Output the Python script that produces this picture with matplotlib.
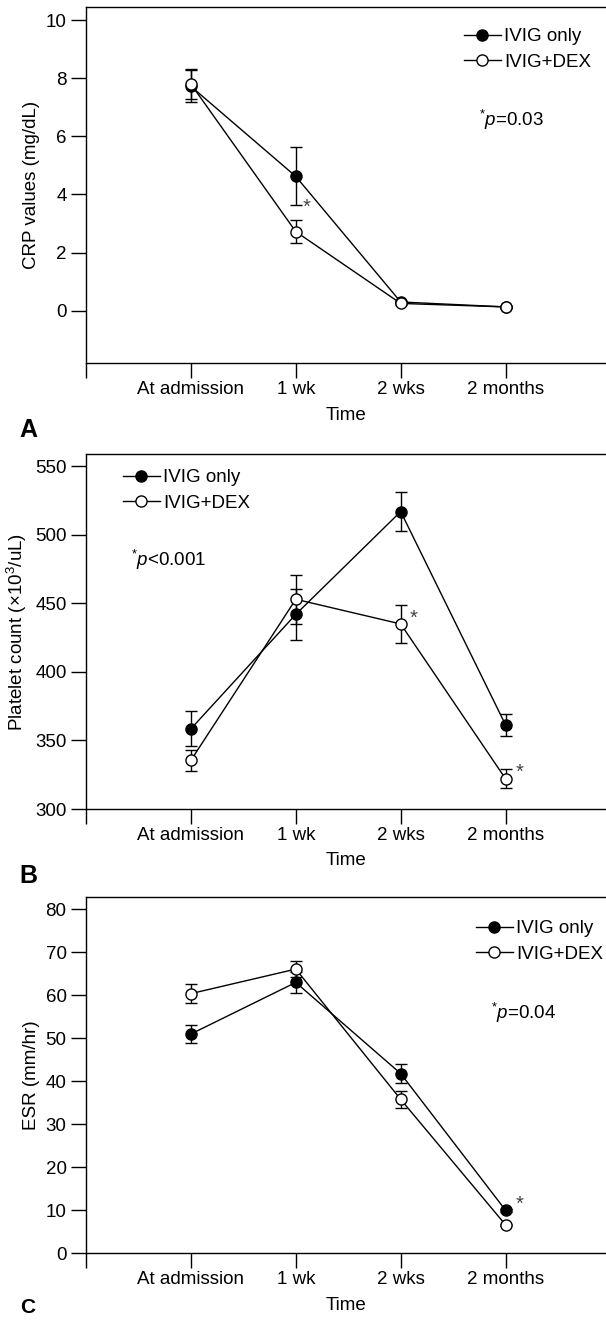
import numpy as np
import matplotlib
matplotlib.use("Agg")
import matplotlib.pyplot as plt
from matplotlib.lines import Line2D

plt.rcParams['font.family'] = ['Liberation Sans', 'DejaVu Sans']
plt.rcParams['mathtext.fontset'] = 'custom'
plt.rcParams['mathtext.rm'] = 'Liberation Sans'
plt.rcParams['mathtext.it'] = 'Liberation Sans:italic'

# datos
time_labels = ['At admission', '1 wk', '2 wks', '2 months']
x = np.arange(1, 5)

crp_ivig = [7.72, 4.62, 0.30, 0.13]
crp_ivig_err = [0.55, 1.0, 0.05, 0.03]
crp_dex = [7.80, 2.72, 0.25, 0.13]
crp_dex_err = [0.50, 0.40, 0.05, 0.03]

plt_ivig = [358.5, 442, 517, 361.3]
plt_ivig_err = [12.7, 18.5, 14.5, 8.1]
plt_dex = [335.5, 453, 435, 322]
plt_dex_err = [7.5, 18, 14, 7]

esr_ivig = [51.0, 63.0, 41.8, 10.0]
esr_ivig_err = [2.2, 2.4, 2.2, 0.3]
esr_dex = [60.4, 66.1, 35.8, 6.6]
esr_dex_err = [2.3, 1.9, 1.9, 0.3]

W, H = 606, 1320
fig = plt.figure(figsize=(W / 100, H / 100), dpi=100)
FS = 13.5
MS = 8


def add_panel(top, bottom):
    return fig.add_axes([86 / W, 1 - bottom / H, (W - 86) / W, (bottom - top) / H])


def draw(ax, yi, ei, yd, ed):
    ax.errorbar(x, yi, yerr=ei, color='black', lw=1.0, elinewidth=1.0, capsize=4, capthick=1.0,
                marker='o', ms=MS, mfc='black', mec='black', mew=1.0, zorder=3)
    ax.errorbar(x, yd, yerr=ed, color='black', lw=1.0, elinewidth=1.0, capsize=4, capthick=1.0,
                marker='o', ms=MS, mfc='white', mec='black', mew=1.0, zorder=4)
    ax.set_xlim(0, (W - 86) / 104.9)
    ax.set_xticks([0, 1, 2, 3, 4])
    ax.set_xticklabels([''] + time_labels, fontsize=FS)
    ax.tick_params(axis='both', direction='out', length=11, width=1.0, labelsize=FS)
    ax.tick_params(axis='x', pad=2)
    ax.tick_params(axis='y', pad=3)
    ax.spines['right'].set_visible(False)
    for s in ['left', 'top', 'bottom']:
        ax.spines[s].set_linewidth(1.0)
    ax.set_xlabel('Time', fontsize=FS, labelpad=6)


def legend(ax, px, py):
    h = [Line2D([], [], color='black', lw=1.0, marker='o', ms=MS, mfc='black', mec='black'),
         Line2D([], [], color='black', lw=1.0, marker='o', ms=MS, mfc='white', mec='black')]
    ax.legend(h, ['IVIG only', 'IVIG+DEX'], loc='upper left', bbox_to_anchor=(px / W, 1 - py / H),
              bbox_transform=fig.transFigure, frameon=False, fontsize=FS, handlelength=1.95,
              handletextpad=0.2, labelspacing=0.45, borderpad=0, borderaxespad=0)


# Panel A - CRP
axA = add_panel(7.3, 363.3)
draw(axA, crp_ivig, crp_ivig_err, crp_dex, crp_dex_err)
axA.set_ylim(-1.81, 10.44)
axA.set_yticks([0, 2, 4, 6, 8, 10])
axA.set_ylabel('CRP values (mg/dL)', fontsize=FS)
legend(axA, 464, 28)
fig.text(511 / W, 1 - 120 / H, r'$^{*}\mathit{p}$=0.03', fontsize=FS, ha='center', va='center')
fig.text(307 / W, 1 - 207 / H, '*', fontsize=FS + 1, ha='center', va='center', color='#444444')
fig.text(28 / W, 1 - 430 / H, 'A', fontsize=18, fontweight='bold', ha='center', va='center')

# Panel B - plaquetas
axB = add_panel(454, 809)
draw(axB, plt_ivig, plt_ivig_err, plt_dex, plt_dex_err)
axB.set_ylim(300, 559)
axB.set_yticks([300, 350, 400, 450, 500, 550])
axB.set_ylabel(r'Platelet count ($\times$10$^3$/uL)', fontsize=FS)
legend(axB, 123, 469)
fig.text(169 / W, 1 - 560 / H, r'$^{*}\mathit{p}$<0.001', fontsize=FS, ha='center', va='center')
fig.text(414 / W, 1 - 618 / H, '*', fontsize=FS + 1, ha='center', va='center', color='#444444')
fig.text(520 / W, 1 - 772 / H, '*', fontsize=FS + 1, ha='center', va='center', color='#444444')
fig.text(28 / W, 1 - 876 / H, 'B', fontsize=18, fontweight='bold', ha='center', va='center')

# Panel C - ESR
axC = add_panel(897.3, 1253.3)
draw(axC, esr_ivig, esr_ivig_err, esr_dex, esr_dex_err)
axC.set_ylim(0, 82.8)
axC.set_yticks(np.arange(0, 81, 10))
axC.set_ylabel('ESR (mm/hr)', fontsize=FS)
legend(axC, 476, 920)
fig.text(524 / W, 1 - 1013 / H, r'$^{*}\mathit{p}$=0.04', fontsize=FS, ha='center', va='center')
fig.text(520 / W, 1 - 1204 / H, '*', fontsize=FS + 1, ha='center', va='center', color='#444444')
fig.text(28 / W, 1 - 1298 / H, 'C', fontsize=15, fontweight='bold', ha='center', va='top')

fig.savefig('out.png', dpi=100)
